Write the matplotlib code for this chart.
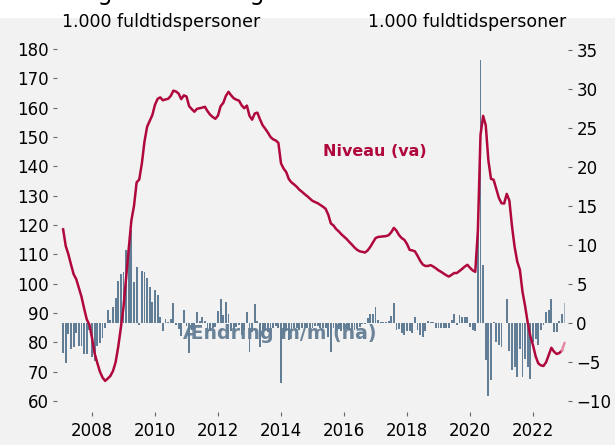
import numpy as np
import pandas as pd
import matplotlib.pyplot as plt
from matplotlib.patches import Rectangle

# Bruttoledighed, 1.000 fuldtidspersoner, jan 2007 - dec 2022
maaneder = pd.date_range('2007-01-01', '2022-12-01', freq='MS')

niveau = [
    118.5, 112.8, 110.0, 106.5, 103.2, 101.5, 98.5, 95.5, 91.5, 87.8, 86.0, 81.5,   # 2007
    76.2, 73.0, 70.0, 68.0, 66.8, 67.6, 68.5, 70.2, 73.2, 78.5, 85.0, 92.0,         # 2008
    102.0, 112.0, 121.5, 126.5, 134.5, 135.5, 141.0, 148.5, 153.5, 155.5, 157.5, 161.0,
    163.0, 163.5, 162.5, 162.8, 163.0, 164.0, 165.8, 165.5, 164.8, 162.9, 164.2, 163.8,
    160.5, 159.5, 158.6, 159.6, 159.8, 160.0, 160.3, 158.8, 157.6, 156.8, 156.2, 157.3,
    160.5, 161.6, 164.0, 165.4, 164.2, 163.2, 162.7, 162.4, 160.8, 159.8, 160.7, 157.2,
    155.9, 158.0, 158.3, 156.0, 154.0, 152.8, 151.5, 150.0, 149.2, 148.8, 148.0, 141.0,
    139.2, 138.0, 135.6, 134.5, 133.8, 133.0, 132.0, 131.3, 130.5, 129.8, 129.0, 128.2,
    127.8, 127.4, 126.8, 126.2, 125.5, 123.5, 120.5, 119.8, 118.6, 117.8, 116.8, 116.0,
    115.2, 114.2, 113.3, 112.3, 111.5, 111.0, 110.8, 110.6, 111.3, 112.5, 114.0, 115.5,
    115.9, 116.0, 116.1, 116.2, 116.5, 117.5, 119.0, 118.0, 116.5, 115.5, 114.9, 113.5,
    111.5, 111.3, 111.0, 109.5, 107.8, 106.5, 106.0, 106.0, 106.3, 105.8, 105.2, 104.5,
    104.0, 103.4, 102.8, 102.4, 103.0, 103.6, 103.6, 104.3, 105.0, 105.8, 106.4, 105.4,
    104.5, 104.0, 118.0, 150.7, 157.2, 154.0, 142.0, 135.7, 135.4, 132.3, 129.2, 127.4,
    127.3, 130.6, 128.3, 119.5, 112.5, 107.5, 104.7, 97.2, 92.3, 86.6, 82.0, 79.0,
    75.2, 72.8, 72.1, 71.9, 73.2, 75.6, 78.1, 76.8, 76.0, 76.3, 77.2, 79.7,         # 2022
]

aendring = [
    -3.9, -5.1, -1.4, -3.4, -3.1, -1.3, -3.0, -3.0, -4.0, -4.0, -0.9, -4.4,
    -4.9, -3.0, -2.6, -2.0, -0.6, 1.7, 0.4, 2.0, 3.2, 5.4, 6.3, 6.5,
    9.4, 9.9, 11.9, 5.3, 7.2, -0.3, 6.7, 6.5, 5.8, 4.6, 2.7, 4.2,
    3.6, 0.8, -1.1, 0.5, 0.1, 0.5, 2.5, -0.3, -0.8, -1.7, 1.6, -0.4,
    -3.9, -0.9, -0.8, 1.4, 0.2, 0.7, 0.3, -1.4, -1.1, -0.7, -0.5, 1.5,
    3.0, 1.0, 2.7, 1.2, -1.1, -0.9, -0.5, -0.3, -1.5, -0.9, 1.4, -3.7,
    -1.2, 2.4, 0.3, -3.1, -1.8, -1.1, -1.2, -1.4, -0.7, -0.4, -0.7, -7.7,
    -1.6, -1.1, -2.2, -1.0, -0.6, -0.7, -0.9, -0.6, -0.7, -0.6, -0.7, -0.7,
    -0.4, -0.4, -0.6, -0.6, -0.7, -1.8, -3.7, -0.7, -1.1, -0.8, -1.0, -0.8,
    -0.8, -0.9, -0.9, -0.9, -0.8, -0.5, -0.2, -0.2, 0.6, 1.2, 1.2, 2.0,
    0.4, 0.1, 0.1, 0.1, 0.3, 0.9, 2.5, -0.9, -0.8, -1.3, -1.5, -1.1,
    -1.1, -1.3, 0.7, -0.9, -1.5, -1.8, -1.1, 0.3, 0.1, 0.1, -0.6, -0.6,
    -0.6, -0.6, -0.6, -0.6, 0.4, 1.2, -0.3, 1.0, 0.7, 0.7, 0.8, -0.5,
    -0.9, -1.1, 12.5, 33.7, 7.4, -4.7, -9.4, -7.3, 0.1, -2.5, -2.8, -3.1,
    0.0, 3.1, -3.6, -6.1, -5.6, -7.0, -3.3, -7.0, -4.6, -5.6, -7.2, -2.5,
    -2.1, -2.8, -0.9, -0.3, 1.4, 1.7, 3.1, -1.2, -1.2, 0.2, 1.2, 2.6,
]

aar_ticks = [2008, 2010, 2012, 2014, 2016, 2018, 2020, 2022]

rod = '#b0083c'
lys_rod = '#e58aa5'
blaa = '#627e96'
lys_blaa = '#a3b4c4'
bg = '#f2f2f2'

# month-end positions as decimal years
x = np.array(maaneder.year + maaneder.month / 12.0)
niveau = np.array(niveau)
aendring = np.array(aendring)

plt.rcParams['font.family'] = ['DejaVu Sans']

fig = plt.figure(figsize=(6.15, 4.45), dpi=100, facecolor=bg)
fig.patches.append(Rectangle((0, 1 - 18 / 445), 1, 18 / 445, transform=fig.transFigure,
                             facecolor='white', edgecolor='none', zorder=0))
fig.text(0.005, 1.0, 'Udvikling i bruttoledigheden', fontsize=17, va='baseline', ha='left')

ax1 = fig.add_axes([57 / 615, 33 / 445, 511 / 615, 372 / 445])
ax1.set_facecolor('none')
farver = [blaa] * (len(aendring) - 1) + [lys_blaa]
ax1.bar(x, aendring, width=0.058, color=farver, zorder=2)
ax1.text(0.246, 0.195, 'Ændring m/m (ha)', transform=ax1.transAxes, fontsize=13.6,
         fontweight='bold', color='#6a8399', zorder=1)

ax2 = ax1.twinx()
ax2.plot(x[:-1], niveau[:-1], color=rod, lw=1.8, solid_joinstyle='round', zorder=3)
ax2.plot(x[-2:], niveau[-2:], color=lys_rod, lw=1.8, zorder=3)

# twinx moves the ticks, so place them afterwards
ax1.yaxis.set_ticks_position('right')
ax2.yaxis.set_ticks_position('left')
ax1.set_ylim(-11.43, 36.28)
ax1.set_yticks(range(-10, 36, 5))
ax2.set_ylim(56.2, 183.07)
ax2.set_yticks(range(60, 181, 10))
ax1.set_xlim(2006.889, 2023.111)
ax1.set_xticks(aar_ticks)

for ax in (ax1, ax2):
    for s in ax.spines.values():
        s.set_visible(False)
    ax.tick_params(length=3, width=0.8, color='#666666', labelsize=12, pad=3)
ax1.tick_params(axis='x', pad=4)

fig.text(375 / 615, 1 - 152 / 445, 'Niveau (va)', fontsize=11.5, fontweight='bold',
         color=rod, ha='center', va='center')
fig.text(62 / 615, 1 - 22 / 445, '1.000 fuldtidspersoner', fontsize=12.5, va='center')
fig.text(566 / 615, 1 - 22 / 445, '1.000 fuldtidspersoner', fontsize=12.5, va='center', ha='right')

fig.savefig('out.png', dpi=100, facecolor=bg)
